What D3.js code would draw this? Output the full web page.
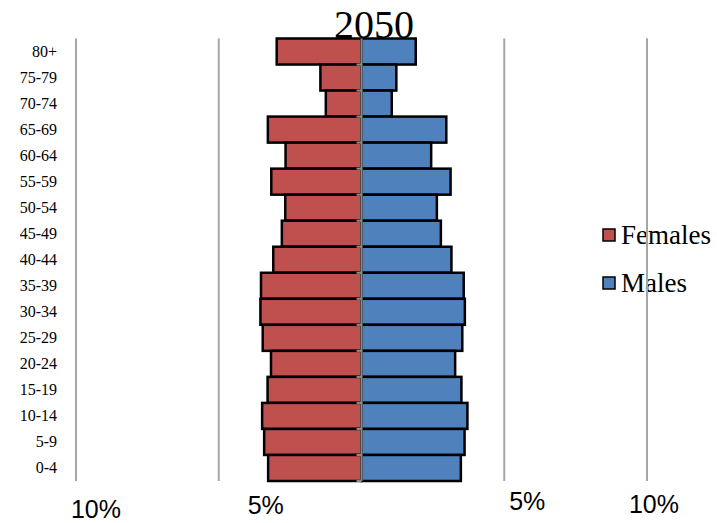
<!DOCTYPE html>
<html>
<head>
<meta charset="utf-8">
<script src="https://cdn.jsdelivr.net/npm/d3@7"></script>
<style>
  html, body { margin: 0; padding: 0; background: #fff; }
  svg { display: block; }
  .serif { font-family: "Liberation Serif", "DejaVu Serif", serif; }
  .sans { font-family: "Liberation Sans", Arial, sans-serif; }
</style>
</head>
<body>
<svg id="chart" width="717" height="523"></svg>
<script>
const title = "2050";
const ageGroups = ["80+", "75-79", "70-74", "65-69", "60-64", "55-59", "50-54", "45-49",
  "40-44", "35-39", "30-34", "25-29", "20-24", "15-19", "10-14", "5-9", "0-4"];
const females = [2.97, 1.44, 1.25, 3.28, 2.66, 3.16, 2.67, 2.79, 3.09, 3.52, 3.54, 3.46, 3.17, 3.29, 3.48, 3.41, 3.27];
const males   = [1.90, 1.22, 1.06, 2.97, 2.44, 3.12, 2.64, 2.78, 3.15, 3.58, 3.62, 3.53, 3.28, 3.50, 3.71, 3.61, 3.48];
const tickValues = [-10, -5, 5, 10];
const tickLabels = ["10%", "5%", "5%", "10%"];
const seriesNames = ["Females", "Males"];
const colors = ["#c0504d", "#4f81bd"];

const svg = d3.select("#chart");
const x = d3.scaleLinear().domain([-10, 10]).range([76, 647]);
const y = d3.scaleBand().domain(ageGroups).range([38.5, 481]).padding(0);

// gridlines
svg.append("g").selectAll("line").data(tickValues).join("line")
  .attr("x1", d => x(d)).attr("x2", d => x(d))
  .attr("y1", y.range()[0]).attr("y2", y.range()[1])
  .attr("stroke", "#a6a6a6").attr("stroke-width", 2);

// legend
const legendY = [235, 283];
const lg = svg.append("g");
seriesNames.forEach((name, i) => {
  lg.append("rect").attr("x", 603).attr("y", legendY[i] - 6).attr("width", 12).attr("height", 12)
    .attr("fill", colors[i]).attr("stroke", "#000").attr("stroke-width", 1.5);
  lg.append("text").attr("class", "serif").attr("x", 621).attr("y", legendY[i] + 9)
    .attr("font-size", 27).attr("fill", "#000").text(name);
});
// right gridline crosses the legend text
svg.append("line").attr("x1", x(10)).attr("x2", x(10))
  .attr("y1", y.range()[0]).attr("y2", y.range()[1])
  .attr("stroke", "#a6a6a6").attr("stroke-width", 2);

// bars
const g = svg.append("g");
g.selectAll("rect.f").data(ageGroups).join("rect").attr("class", "f")
  .attr("x", (d, i) => x(-females[i])).attr("width", (d, i) => x(0) - x(-females[i]))
  .attr("y", d => y(d)).attr("height", y.bandwidth())
  .attr("fill", colors[0]).attr("stroke", "#000").attr("stroke-width", 2.5);
g.selectAll("rect.m").data(ageGroups).join("rect").attr("class", "m")
  .attr("x", x(0)).attr("width", (d, i) => x(males[i]) - x(0))
  .attr("y", d => y(d)).attr("height", y.bandwidth())
  .attr("fill", colors[1]).attr("stroke", "#000").attr("stroke-width", 2.5);

// center axis with ticks
const ax = svg.append("g");
ax.append("line").attr("x1", x(0)).attr("x2", x(0))
  .attr("y1", y.range()[0]).attr("y2", y.range()[1])
  .attr("stroke", "#8c8c8c").attr("stroke-width", 2);
ax.selectAll("line.t").data(ageGroups).join("line").attr("class", "t")
  .attr("x1", x(0) - 5).attr("x2", x(0))
  .attr("y1", d => y(d) + y.step())
  .attr("y2", d => y(d) + y.step())
  .attr("stroke", "#8c8c8c").attr("stroke-width", 2);

// y labels
svg.append("g").selectAll("text").data(ageGroups).join("text")
  .attr("class", "serif")
  .attr("x", 57).attr("y", d => y(d) + y.bandwidth() / 2 + 5)
  .attr("text-anchor", "end").attr("font-size", 16)
  .attr("fill", "#000").text(d => d);

// x tick labels (offset irregularly as in original)
const dxs = [20, 47, 23, 7];
const ys = [518, 514, 510, 513];
svg.append("g").selectAll("text").data(tickValues).join("text")
  .attr("class", "sans")
  .attr("x", (d, i) => x(d) + dxs[i]).attr("y", (d, i) => ys[i])
  .attr("text-anchor", "middle").attr("font-size", 25)
  .attr("fill", "#000").text((d, i) => tickLabels[i]);

// title
svg.append("text").attr("class", "serif").attr("x", 374).attr("y", 38).attr("text-anchor", "middle")
  .attr("font-size", 40).attr("fill", "#000").text(title);
</script>
</body>
</html>
